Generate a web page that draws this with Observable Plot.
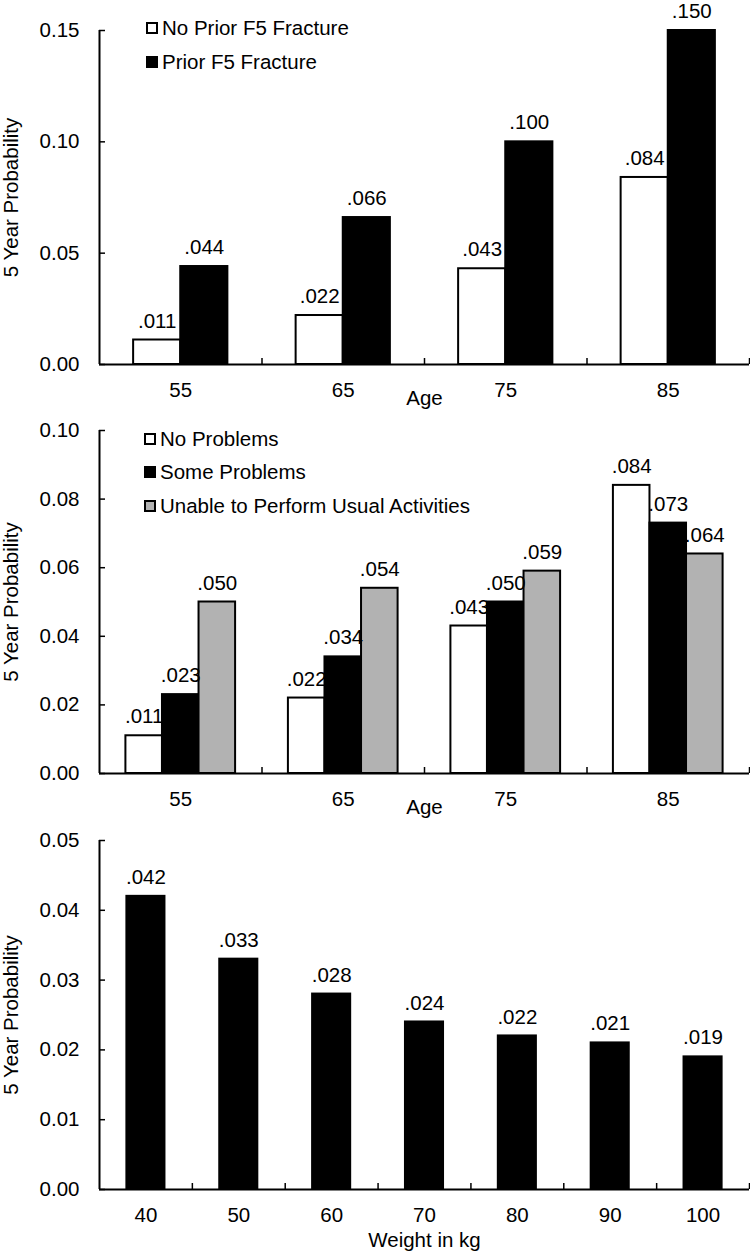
<!DOCTYPE html>
<html>
<head>
<meta charset="utf-8">
<script src="https://cdn.jsdelivr.net/npm/d3@7"></script>
<script src="https://cdn.jsdelivr.net/npm/@observablehq/plot@0.6"></script>
<style>
  html, body { margin: 0; padding: 0; background: white; }
  #root { width: 750px; font-family: "Liberation Sans", Arial, sans-serif; }
  .panel { position: relative; width: 750px; }
  .panel svg { display: block; }
  .legend { position: absolute; left: 0; top: 0; font-size: 20.5px; color: black; }
  .legend .row { position: absolute; white-space: nowrap; display: flex; align-items: center; }
  .legend .sw { box-sizing: border-box; width: 12px; height: 12px; border: 2px solid black; margin-right: 4px; }
</style>
</head>
<body>
<div id="root"></div>
<script>
// ---------- data ----------
const ages = [55, 65, 75, 85];
const ageBoundaryTicks = [60, 70, 80, 90];

const seriesFracture = ["No Prior F5 Fracture", "Prior F5 Fracture"];
const noPriorF5 = [0.011, 0.022, 0.043, 0.084];
const priorF5 = [0.044, 0.066, 0.100, 0.150];
const yTicks1 = [0, 0.05, 0.10, 0.15];

const seriesActivity = ["No Problems", "Some Problems", "Unable to Perform Usual Activities"];
const noProblems = [0.011, 0.022, 0.043, 0.084];
const someProblems = [0.023, 0.034, 0.050, 0.073];
const unableUsual = [0.050, 0.054, 0.059, 0.064];
const yTicks2 = [0, 0.02, 0.04, 0.06, 0.08, 0.10];

const weights = [40, 50, 60, 70, 80, 90, 100];
const weightBoundaryTicks = [45, 55, 65, 75, 85, 95, 105];
const weightProb = [0.042, 0.033, 0.028, 0.024, 0.022, 0.021, 0.019];
const yTicks3 = [0, 0.01, 0.02, 0.03, 0.04, 0.05];

// ---------- helpers ----------
const FONT = "'Liberation Sans', Arial, sans-serif";
const fmtVal = d => d3.format(".3f")(d).replace(/^0/, "");
const fmtY = d3.format(".2f");

function long(cats, seriesNames, arrays, key) {
  return cats.flatMap((c, i) => arrays.map((arr, k) => ({[key]: c, series: seriesNames[k], k, value: arr[i]})));
}

function panel({data, key, n, barW, xDomain, catTicks, boundTicks, yDomain, yTicks, colors, seriesNames,
                width = 750, height, marginTop, marginBottom, xLabel, xLabelOffset}) {
  const x1 = d => d[key] + (d.k - n / 2) * barW;
  const x2 = d => d[key] + (d.k - n / 2 + 1) * barW;
  const xc = d => d[key] + (d.k - n / 2 + 0.5) * barW;
  return Plot.plot({
    width, height, marginTop, marginBottom, marginLeft: 99, marginRight: 1,
    style: {fontFamily: FONT, fontSize: "20.5px", color: "black", background: "transparent", overflow: "visible"},
    x: {domain: xDomain},
    y: {domain: yDomain},
    color: {domain: seriesNames, range: colors},
    marks: [
      Plot.rect(data, {x1, x2, y1: 0, y2: "value", fill: "series", stroke: "black", strokeWidth: 2}),
      Plot.text(data, {x: xc, y: "value", text: d => fmtVal(d.value), dy: -19, lineAnchor: "middle", fill: "black"}),
      Plot.ruleY([yDomain[0]], {stroke: "black", strokeWidth: 2}),
      Plot.ruleX([xDomain[0]], {stroke: "black", strokeWidth: 2}),
      Plot.axisY({ticks: yTicks, tickSize: 0, tickPadding: 20, tickFormat: fmtY,
                  label: "5 Year Probability", labelAnchor: "center", labelArrow: "none"}),
      Plot.axisY({ticks: yTicks, tickSize: 6, dx: 6, tickFormat: () => "", label: null, strokeWidth: 1.5}),
      Plot.axisX({ticks: catTicks, tickSize: 0, tickPadding: 18, tickFormat: d => String(d),
                  label: xLabel, labelAnchor: "center", labelArrow: "none", labelOffset: xLabelOffset}),
      Plot.axisX({ticks: boundTicks, tickSize: 6, dy: -6, tickFormat: () => "", label: null, strokeWidth: 1.5})
    ]
  });
}

function legend(items, colors, rows) {
  const lg = document.createElement("div");
  lg.className = "legend";
  items.forEach((name, i) => {
    const r = document.createElement("div");
    r.className = "row";
    r.style.left = rows.x + "px";
    r.style.top = (rows.y[i] - 12) + "px";
    r.style.height = "24px";
    const sw = document.createElement("div");
    sw.className = "sw";
    sw.style.background = colors[i];
    const t = document.createElement("span");
    t.textContent = name;
    r.appendChild(sw); r.appendChild(t);
    lg.appendChild(r);
  });
  return lg;
}

const root = document.getElementById("root");
function addPanel(svg, lg) {
  const p = document.createElement("div");
  p.className = "panel";
  p.appendChild(svg);
  if (lg) p.appendChild(lg);
  root.appendChild(p);
}

// ---------- panel 1 ----------
const colors1 = ["white", "black"];
addPanel(panel({
  data: long(ages, seriesFracture, [noPriorF5, priorF5], "age"), key: "age", n: 2, barW: 2.9,
  xDomain: [50, 90], catTicks: ages, boundTicks: ageBoundaryTicks,
  yDomain: [0, 0.15], yTicks: yTicks1, colors: colors1, seriesNames: seriesFracture,
  height: 410, marginTop: 30, marginBottom: 46, xLabel: "Age", xLabelOffset: 40
}), legend(seriesFracture, colors1, {x: 146, y: [28, 61.5]}));

// ---------- panel 2 ----------
const colors2 = ["white", "black", "#b2b2b2"];
addPanel(panel({
  data: long(ages, seriesActivity, [noProblems, someProblems, unableUsual], "age"), key: "age", n: 3, barW: 2.25,
  xDomain: [50, 90], catTicks: ages, boundTicks: ageBoundaryTicks,
  yDomain: [0, 0.10], yTicks: yTicks2, colors: colors2, seriesNames: seriesActivity,
  height: 410, marginTop: 20, marginBottom: 47, xLabel: "Age", xLabelOffset: 40
}), legend(seriesActivity, colors2, {x: 144, y: [29, 62, 96]}));

// ---------- panel 3 ----------
addPanel(panel({
  data: long(weights, ["Probability"], [weightProb], "w"), key: "w", n: 1, barW: 4.1,
  xDomain: [35, 105], catTicks: weights, boundTicks: weightBoundaryTicks,
  yDomain: [0, 0.05], yTicks: yTicks3, colors: ["black"], seriesNames: ["Probability"],
  height: 439, marginTop: 20, marginBottom: 70, xLabel: "Weight in kg", xLabelOffset: 57
}), null);
</script>
</body>
</html>
